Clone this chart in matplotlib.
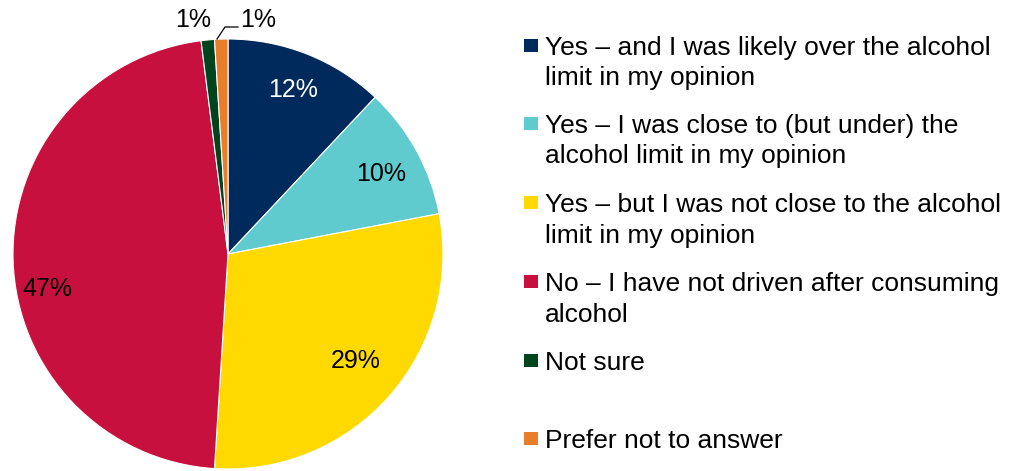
import matplotlib.pyplot as plt
from matplotlib.patches import Rectangle
import numpy as np

plt.rcParams['font.family'] = ['Liberation Sans', 'DejaVu Sans']

# survey answers, clockwise from 12 o'clock
labels = [["Yes \u2013 and I was likely over the alcohol", "limit in my opinion"],
          ["Yes \u2013 I was close to (but under) the", "alcohol limit in my opinion"],
          ["Yes \u2013 but I was not close to the alcohol", "limit in my opinion"],
          ["No \u2013 I have not driven after consuming", "alcohol"],
          ["Not sure"],
          ["Prefer not to answer"]]
shares = [12, 10, 29, 47, 1, 1]
colors = ["#002A5C", "#5FCBCE", "#FFD900", "#C8103E", "#00441E", "#E87E2A"]
pct_colors = ["white", "black", "black", "black"]

W, H = 1011, 471
fig = plt.figure(figsize=(W / 100, H / 100), dpi=100)
ax = fig.add_axes([0, 0, 1, 1])

cx, cy, R = 228, H - 254, 215
wedges, _ = ax.pie(shares, colors=colors, startangle=90, counterclock=False,
                   center=(cx, cy), radius=R, frame=True,
                   wedgeprops=dict(edgecolor='white', linewidth=0.8))
ax.set_xlim(0, W)
ax.set_ylim(0, H)
ax.set_aspect('equal')
ax.axis('off')

# percentage labels inside the bigger slices
dist = [0.82, 0.80, 0.77, 0.86]
shift = [(0, 0), (2, -3), (4, 2), (4, -29)]
for i, w in enumerate(wedges[:4]):
    mid = np.deg2rad((w.theta1 + w.theta2) / 2)
    x = cx + dist[i] * R * np.cos(mid) + shift[i][0]
    y = cy + dist[i] * R * np.sin(mid) + shift[i][1]
    ax.text(x, y, f"{shares[i]}%", ha='center', va='center',
            fontsize=18, color=pct_colors[i])

# small slices get outside labels
ax.text(193, H - 20, f"{shares[4]}%", ha='center', va='center', fontsize=18)
ax.text(258, H - 20, f"{shares[5]}%", ha='center', va='center', fontsize=18)
ax.plot([217, 225, 238], [H - 39, H - 27, H - 27], color='black', lw=0.9)

# legend, drawn by hand to keep Excel-like spacing
centers = [45, 123, 202, 281, 360, 438]
for lines, col, yc in zip(labels, colors, centers):
    ax.add_patch(Rectangle((524, H - yc - 6.5), 14, 13, facecolor=col,
                           edgecolor='none'))
    for j, line in enumerate(lines):
        ax.text(545, H - (yc + 9.5 + 31 * j), line, ha='left', va='baseline',
                fontsize=19)

fig.savefig("out.png", dpi=100)
